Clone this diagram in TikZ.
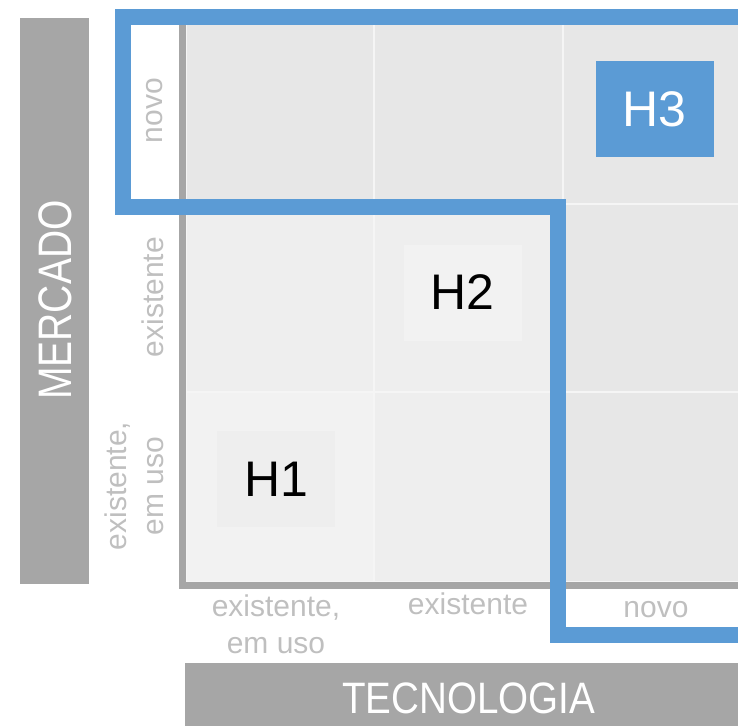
\documentclass[tikz,border=0pt]{standalone}
\usepackage{fontspec}
\setmainfont{Liberation Sans}

\definecolor{barGrey}{HTML}{A6A6A6}
\definecolor{labelGrey}{HTML}{BFBFBF}
\definecolor{hBlue}{HTML}{5B9BD5}
\definecolor{zoneA}{HTML}{F2F2F2}
\definecolor{zoneB}{HTML}{EEEEEE}
\definecolor{zoneC}{HTML}{E7E7E7}
\definecolor{gapLine}{HTML}{F5F5F5}

\tikzset{
  cell/.style={draw=gapLine, line width=2pt},
  ticklabel/.style={text=labelGrey, font=\fontsize{30}{37}\selectfont, align=center, inner sep=0pt},
  axisname/.style={text=white, inner sep=0pt},
  hbox/.style={minimum width=118pt, minimum height=96pt, inner sep=0pt, font=\fontsize{50}{56}\selectfont}
}

\begin{document}
\begin{tikzpicture}[x=1pt,y=-1pt]
  \useasboundingbox (0,0) rectangle (738,726);
  % grey bars with the axis names
  \fill[barGrey] (20,18) rectangle (89,584);
  \fill[barGrey] (185,663) rectangle (738,726);
  \node[axisname, rotate=90, font=\fontsize{47}{52}\selectfont] (mercado) at (55.5,300) {\scalebox{0.83}[1]{MERCADO}};
  \node[axisname, font=\fontsize{44}{50}\selectfont] (tecnologia) at (468.5,698) {\scalebox{0.877}[1]{TECNOLOGIA}};
  % the nine cells
  \filldraw[cell, fill=zoneC] (186,17) rectangle (374,204);
  \filldraw[cell, fill=zoneC] (374,17) rectangle (563,204);
  \filldraw[cell, fill=zoneC] (563,17) rectangle (752,204);
  \filldraw[cell, fill=zoneB] (186,204) rectangle (374,392);
  \filldraw[cell, fill=zoneB] (374,204) rectangle (563,392);
  \filldraw[cell, fill=zoneC] (563,204) rectangle (752,392);
  \filldraw[cell, fill=zoneA] (186,392) rectangle (374,582);
  \filldraw[cell, fill=zoneB] (374,392) rectangle (563,582);
  \filldraw[cell, fill=zoneC] (563,392) rectangle (752,582);
  % axes
  \draw[barGrey, line width=7pt] (182.5,17) -- (182.5,585) -- (745,585);
  % horizons
  \node[hbox, fill=zoneB] (h1) at (276,479) {H1};
  \node[hbox, fill=zoneA] (h2) at (462.5,292.5) {H2};
  \node[hbox, fill=hBlue, text=white] (h3) at (654.5,109) {H3};
  % blue border of the new ground
  \draw[hBlue, line width=16pt] (745,17) -- (122.5,17) -- (122.5,206.5) -- (558,206.5) -- (558,634.5) -- (745,634.5);
  % tick labels, market
  \node[ticklabel, rotate=90, anchor=base] (mnovo) at (162.5,110.5) {novo};
  \node[ticklabel, rotate=90, anchor=base] (mexist) at (163,297) {existente};
  \node[ticklabel, rotate=90] (muso) at (134,486) {existente,\\em uso};
  % tick labels, technology
  \node[ticklabel] (tuso) at (276,624) {existente,\\em uso};
  \node[ticklabel, anchor=base] (texist) at (468,614) {existente};
  \node[ticklabel, anchor=base] (tnovo) at (656,617) {novo};
\end{tikzpicture}
\end{document}
